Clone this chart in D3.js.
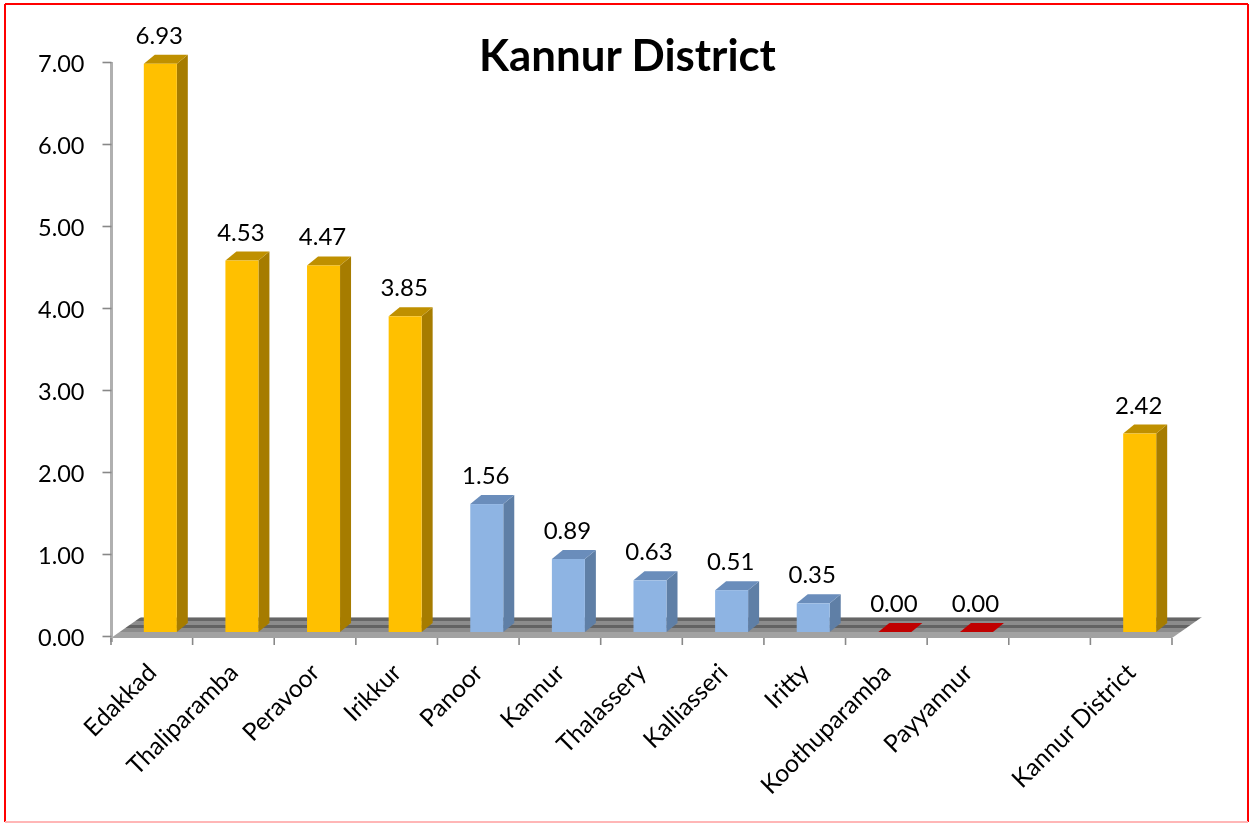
<!DOCTYPE html>
<html>
<head>
<meta charset="utf-8">
<title>Kannur District</title>
<script src="https://cdn.jsdelivr.net/npm/d3@7"></script>
<style>
  html, body { margin: 0; padding: 0; background: #fff; }
  svg { display: block; }
  text { font-family: Lato, "Open Sans", sans-serif; fill: #000; }
</style>
</head>
<body>
<script>
'use strict';

const width = 1249;
const height = 823;

const categories = ['Edakkad', 'Thaliparamba', 'Peravoor', 'Irikkur', 'Panoor', 'Kannur', 'Thalassery',
  'Kalliasseri', 'Iritty', 'Koothuparamba', 'Payyannur', ' ', 'Kannur District'];
const values = [6.93, 4.53, 4.47, 3.85, 1.56, 0.89, 0.63, 0.51, 0.35, 0, 0, null, 2.42];
const groups = ['gold', 'gold', 'gold', 'gold', 'blue', 'blue', 'blue', 'blue', 'blue', 'red', 'red', null, 'gold'];
const yTicks = [0, 1, 2, 3, 4, 5, 6, 7];

const palette = {
  gold: { front: '#FFC000', side: '#A67C00', top: '#BF9000' },
  blue: { front: '#8EB4E3', side: '#5F7FA6', top: '#6A8DBB' },
  red: { front: '#C00000', side: '#900000', top: '#C00000' }
};

const svg = d3.select('body')
  .append('svg')
  .attr('width', width)
  .attr('height', height);

const defs = svg.append('defs');

defs.append('filter')
  .attr('id', 'soft')
  .append('feGaussianBlur')
  .attr('stdDeviation', 0.5);

// the floor is a few hard grey bands running front to back
const floorGrad = defs.append('linearGradient')
  .attr('id', 'floor')
  .attr('x1', 0).attr('y1', 0).attr('x2', 0).attr('y2', 1);
[[0, 0.06, '#a8a8a8'], [0.06, 0.17, '#666'], [0.17, 0.38, '#8c8c8c'], [0.38, 0.52, '#646464'],
  [0.52, 0.71, '#8c8c8c'], [0.71, 1, '#a2a2a2']].forEach((s) => {
  floorGrad.append('stop').attr('offset', s[0]).attr('stop-color', s[2]);
  floorGrad.append('stop').attr('offset', s[1]).attr('stop-color', s[2]);
});

const xScale = d3.scaleBand()
  .domain(categories)
  .range([111, 1172]);

const yScale = d3.scaleLinear()
  .domain([0, 7])
  .range([636, 62]);

const barWidth = 33;
const barShift = 8.5;   // bars sit a bit right of the band middle
const barLift = 4;      // and a bit up from the axis, on the floor
const depthX = 11;
const depthY = 9;
const floorX = 30;
const floorY = 21;

const chart = svg.append('g').attr('filter', 'url(#soft)');

const x0 = xScale.range()[0];
const x1 = xScale.range()[1];
const y0 = yScale(0) + 2;

chart.append('polygon')
  .attr('points', [[x0, y0], [x1, y0], [x1 + floorX, y0 - floorY], [x0 + floorX, y0 - floorY]].join(' '))
  .attr('fill', 'url(#floor)');

const yAxis = d3.axisLeft(yScale)
  .tickValues(yTicks)
  .tickSize(9)
  .tickPadding(18)
  .tickFormat((d) => d.toFixed(2));

const yG = chart.append('g')
  .attr('transform', 'translate(111.5,0)')
  .call(yAxis);
yG.select('.domain').attr('stroke', '#b0b0b0').attr('stroke-width', 3).attr('d', `M0,${yScale(7)}V${yScale(0) + 6}`);
yG.selectAll('.tick line').attr('stroke', '#888').attr('stroke-width', 1.6);
yG.selectAll('text').attr('font-size', 23.5).attr('font-family', 'Lato').attr('y', 1.5);

const xAxis = d3.axisBottom(xScale)
  .tickSize(0)
  .tickPadding(0);

const xG = chart.append('g')
  .attr('transform', `translate(0,${yScale(0)})`)
  .call(xAxis);
xG.select('.domain').remove();

// ticks go between the categories, not under them
xG.selectAll('line.sep')
  .data(categories.concat(['end']))
  .enter()
  .append('line')
  .attr('class', 'sep')
  .attr('x1', (d, i) => x0 + i * xScale.bandwidth())
  .attr('x2', (d, i) => x0 + i * xScale.bandwidth())
  .attr('y1', 2)
  .attr('y2', 9)
  .attr('stroke', '#888')
  .attr('stroke-width', 1.6);

xG.selectAll('.tick text')
  .attr('font-size', 24.5)
  .attr('font-family', 'Lato')
  .attr('text-anchor', 'end')
  .attr('transform', 'translate(0,32) rotate(-45)')
  .attr('dy', '0.35em');

const rows = categories
  .map((c, i) => ({ name: c, value: values[i], group: groups[i] }))
  .filter((d) => d.value !== null);

const bars = chart.selectAll('g.bar')
  .data(rows)
  .enter()
  .append('g')
  .attr('class', 'bar');

const left = (d) => xScale(d.name) + xScale.bandwidth() / 2 + barShift - barWidth / 2;
const topY = (d) => yScale(d.value) - barLift;
const baseY = yScale(0) - barLift;

bars.append('polygon')
  .attr('points', (d) => {
    const r = left(d) + barWidth;
    return [[r, topY(d)], [r + depthX, topY(d) - depthY], [r + depthX, baseY - depthY], [r, baseY]].join(' ');
  })
  .attr('fill', (d) => palette[d.group].side);

bars.append('polygon')
  .attr('points', (d) => {
    const l = left(d);
    return [[l, topY(d)], [l + depthX, topY(d) - depthY], [l + barWidth + depthX, topY(d) - depthY], [l + barWidth, topY(d)]].join(' ');
  })
  .attr('fill', (d) => palette[d.group].top);

bars.append('rect')
  .attr('x', left)
  .attr('y', topY)
  .attr('width', barWidth)
  .attr('height', (d) => baseY - topY(d))
  .attr('fill', (d) => palette[d.group].front);

bars.append('text')
  .text((d) => d.value.toFixed(2))
  .attr('text-anchor', 'middle')
  .attr('x', (d) => left(d) + barWidth / 2 - 1)
  .attr('y', (d) => topY(d) - 20)
  .attr('font-size', 24);

chart.append('text')
  .text('Kannur District')
  .attr('x', 627.5)
  .attr('y', 71)
  .attr('text-anchor', 'middle')
  .attr('font-size', 43.8)
  .attr('font-weight', 700);

// picture frame
const frame = [[5, 4, 5, 822, '#f00'], [5, 4, 1248, 4, '#f00'], [1248, 4, 1248, 822, '#f00'], [5, 822, 1248, 822, '#ffb6b6']];
svg.selectAll('line.frame')
  .data(frame)
  .enter()
  .append('line')
  .attr('class', 'frame')
  .attr('x1', (d) => d[0])
  .attr('y1', (d) => d[1])
  .attr('x2', (d) => d[2])
  .attr('y2', (d) => d[3])
  .attr('stroke', (d) => d[4])
  .attr('stroke-width', 2);
</script>
</body>
</html>
